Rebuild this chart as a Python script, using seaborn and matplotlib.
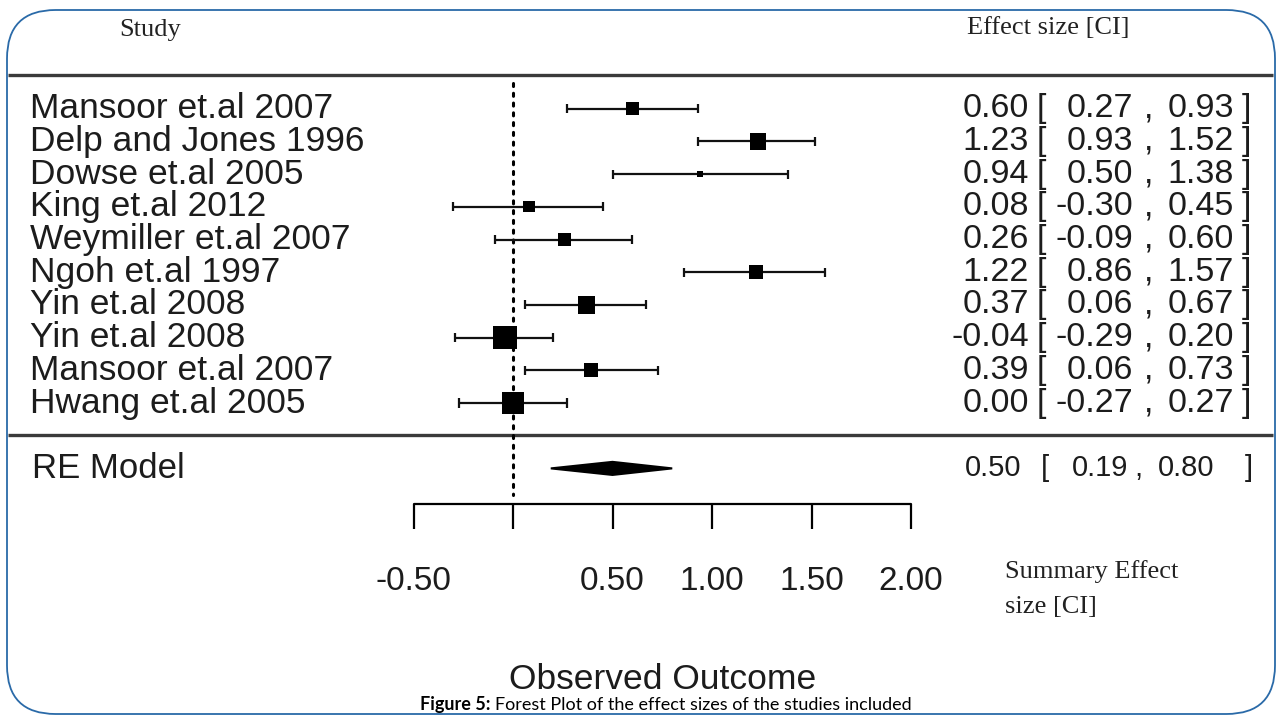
import numpy as np
import seaborn as sns
import matplotlib.pyplot as plt
from matplotlib.patches import FancyBboxPatch
from matplotlib.transforms import blended_transform_factory

# ----------------------------------------
# Data
# ----------------------------------------
studies = ["Mansoor et.al 2007", "Delp and Jones 1996", "Dowse et.al 2005",
           "King et.al 2012", "Weymiller et.al 2007", "Ngoh et.al 1997",
           "Yin et.al 2008", "Yin et.al 2008", "Mansoor et.al 2007",
           "Hwang et.al 2005"]
effect = [0.60, 1.23, 0.94, 0.08, 0.26, 1.22, 0.37, -0.04, 0.39, 0.00]
ci_low = [0.27, 0.93, 0.50, -0.30, -0.09, 0.86, 0.06, -0.29, 0.06, -0.27]
ci_high = [0.93, 1.52, 1.38, 0.45, 0.60, 1.57, 0.67, 0.20, 0.73, 0.27]
weights = [9.0, 10.8, 4.0, 7.5, 8.8, 9.2, 11.5, 15.5, 9.3, 14.7]  # % (estimated)

re_label = "RE Model"
re_effect, re_low, re_high = 0.50, 0.19, 0.80

tick_values = [-0.5, 0.0, 0.5, 1.0, 1.5, 2.0]
tick_labels = ["-0.50", "", "0.50", "1.00", "1.50", "2.00"]

# ----------------------------------------
# Figure setup
# ----------------------------------------
W, H = 1277, 716
sns.set_theme(style="white")
sans = ["Liberation Sans", "DejaVu Sans"]
serif = ["Liberation Serif", "DejaVu Serif"]
plt.rcParams["font.family"] = sans

fig = plt.figure(figsize=(W / 100, H / 100), dpi=100)
ax = fig.add_axes([0, 0, 1, 1])
ax.set_axis_off()
# x: 0 -> 513 px, 1 unit = 199 px ; y: row 1 -> 403 px, 1 row = 32.7 px
ax.set_xlim(-513 / 199, (W - 513) / 199)
ax.set_ylim(1 - (H - 403) / 32.7, 1 + 403 / 32.7)

def fx(px):
    return px / W

def fy(py):
    return 1 - py / H

k = len(studies)
rows = np.arange(k, 0, -1)
txt = "#1c1c1c"
fs_row = 25.5

# rounded frame
frame = FancyBboxPatch((fx(7), fy(714)), fx(1268), 1 - fy(704),
                       boxstyle="round,pad=0,rounding_size=0.038",
                       transform=fig.transFigure, fill=False,
                       edgecolor="#2a6aa8", linewidth=1.3, mutation_aspect=W / H)
fig.patches.append(frame)

# header / separator lines
for py in (75, 435):
    ax.plot([fx(8), fx(1273)], [fy(py), fy(py)], transform=fig.transFigure,
            color="#3a3a3a", lw=2.4, solid_capstyle="butt")

# null effect line
ax.plot([0, 0], [10.8, -1.82], color="black", lw=2.2,
        linestyle=(0, (1, 2.2)), dash_capstyle="round")

# confidence intervals with end caps
ax.hlines(rows, ci_low, ci_high, color="#111111", lw=1.6)
ax.vlines(ci_low, rows - 0.14, rows + 0.14, color="#111111", lw=1.6)
ax.vlines(ci_high, rows - 0.14, rows + 0.14, color="#111111", lw=1.6)

# study squares, side proportional to weight
side_pt = np.array(weights) * 1.5 * 0.72
sns.scatterplot(x=effect, y=rows, marker="s", color="black", s=side_pt ** 2,
                linewidth=0, ax=ax, legend=False, zorder=3)

# summary diamond
ax.fill([re_low, re_effect, re_high, re_effect], [-1, -1 + 0.2, -1, -1 - 0.2],
        color="black", lw=1.5, edgecolor="black")

# axis with ticks
y_axis = -2.1
ax.plot([tick_values[0], tick_values[-1]], [y_axis, y_axis], color="black", lw=1.6)
ax.vlines(tick_values, y_axis - 0.75, y_axis, color="black", lw=1.6)
for tv, tl in zip(tick_values, tick_labels):
    ax.text(tv, -4.45, tl, ha="center", va="center", fontsize=24, color=txt)
ax.text(0.75, -7.45, "Observed Outcome", ha="center", va="center",
        fontsize=25.5, color=txt)

# study labels and effect columns
mix = blended_transform_factory(fig.transFigure, ax.transData)
for r, name, e, lo, hi in zip(rows, studies, effect, ci_low, ci_high):
    ax.text(fx(30), r, name, ha="left", va="center", fontsize=fs_row, color=txt,
            transform=mix)
    ax.text(fx(1029), r, f"{e:.2f}", ha="right", va="center", fontsize=24.5,
            color=txt, transform=mix)
    ax.text(fx(1041), r, "[", ha="center", va="center", fontsize=24.5,
            color=txt, transform=mix)
    ax.text(fx(1133), r, f"{lo:.2f}", ha="right", va="center", fontsize=24.5,
            color=txt, transform=mix)
    ax.text(fx(1149), r, ",", ha="center", va="center", fontsize=24.5,
            color=txt, transform=mix)
    ax.text(fx(1234), r, f"{hi:.2f}", ha="right", va="center", fontsize=24.5,
            color=txt, transform=mix)
    ax.text(fx(1246), r, "]", ha="center", va="center", fontsize=24.5,
            color=txt, transform=mix)

ax.text(fx(32), -1, re_label, ha="left", va="center", fontsize=25, color=txt,
        transform=mix)
ax.text(fx(1021), -1, f"{re_effect:.2f}", ha="right", va="center", fontsize=21,
        color=txt, transform=mix)
ax.text(fx(1045), -1, "[", ha="center", va="center", fontsize=21, color=txt,
        transform=mix)
ax.text(fx(1128), -1, f"{re_low:.2f}", ha="right", va="center", fontsize=21,
        color=txt, transform=mix)
ax.text(fx(1138), -1, ",", ha="center", va="center", fontsize=21, color=txt,
        transform=mix)
ax.text(fx(1214), -1, f"{re_high:.2f}", ha="right", va="center", fontsize=21,
        color=txt, transform=mix)
ax.text(fx(1249), -1, "]", ha="center", va="center", fontsize=21, color=txt,
        transform=mix)

# serif headers
fig.text(fx(150), fy(30), "Study", ha="center", va="center", fontsize=19,
         family=serif, color="#222222")
fig.text(fx(1048), fy(28), "Effect size [CI]", ha="center", va="center",
         fontsize=19, family=serif, color="#222222")
fig.text(fx(1005), fy(572), "Summary Effect", ha="left", va="center",
         fontsize=19, family=serif, color="#222222")
fig.text(fx(1005), fy(607), "size [CI]", ha="left", va="center",
         fontsize=19, family=serif, color="#222222")

# caption: bold lead-in followed by regular text
cap_font = ["Lato", "DejaVu Sans"]
lead = fig.text(fx(420), fy(710), "Figure 5:", ha="left", va="baseline",
                fontsize=13, family=cap_font, weight="bold", color="black")
ax.annotate("Forest Plot of the effect sizes of the studies included",
            xy=(1, 0), xycoords=lead, xytext=(3.5, 0), textcoords="offset points",
            ha="left", va="bottom", fontsize=13, family=cap_font, color="black")

fig.savefig("out.png", dpi=100)
